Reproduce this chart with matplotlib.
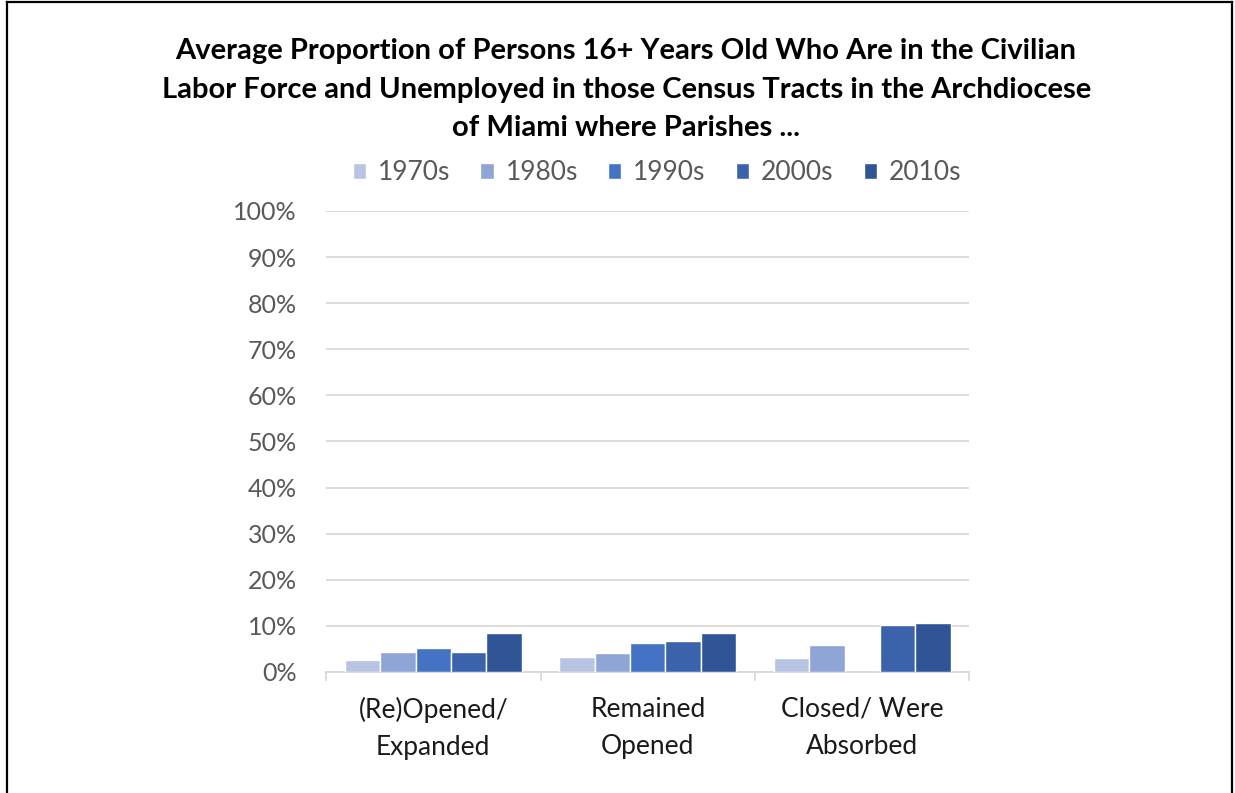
import matplotlib.pyplot as plt
from matplotlib.lines import Line2D
import numpy as np

plt.rcParams['font.family'] = ['Lato', 'DejaVu Sans']

categories = ["(Re)Opened/\nExpanded", "Remained\nOpened", "Closed/ Were\nAbsorbed"]
decades = ["1970s", "1980s", "1990s", "2000s", "2010s"]
colors = ["#B9C4E3", "#8FA5D5", "#4472C4", "#3B63AC", "#2F5597"]

# share of persons 16+ unemployed, one list per decade
v1970s = [0.027, 0.032, 0.030]
v1980s = [0.043, 0.041, 0.058]
v1990s = [0.052, 0.062, np.nan]
v2000s = [0.043, 0.068, 0.101]
v2010s = [0.084, 0.084, 0.107]
series = [v1970s, v1980s, v1990s, v2000s, v2010s]

title = ("Average Proportion of Persons 16+ Years Old Who Are in the Civilian\n"
         "Labor Force and Unemployed in those Census Tracts in the Archdiocese\n"
         "of Miami where Parishes ...")

fig = plt.figure(figsize=(12.35, 7.93), dpi=100)
ax = fig.add_axes([0.264, 0.1526, 0.521, 0.5814])

x = np.arange(len(categories))
w = 0.165
for i, (name, vals) in enumerate(zip(decades, series)):
    ax.bar(x + (i - 2) * w, vals, w, color=colors[i], label=name,
           edgecolor="white", linewidth=1, zorder=3)

ax.set_xlim(-0.5, 2.5)
ax.set_ylim(0, 1)
ax.set_yticks(np.arange(0, 1.01, 0.1))
ax.set_yticklabels([f"{int(round(t * 100))}%" for t in np.arange(0, 1.01, 0.1)])
ax.yaxis.grid(True, color="#D9D9D9", linewidth=1.3, zorder=0)
ax.tick_params(axis="y", length=0, pad=21, labelsize=18, labelcolor="#595959")

ax.set_xticks(x)
ax.set_xticklabels(categories, linespacing=1.58)
ax.tick_params(axis="x", length=0, pad=18, labelsize=19, labelcolor="#1A1A1A")
# category separators below the axis
for b in [-0.5, 0.5, 1.5, 2.5]:
    ax.plot([b, b], [0, -0.018], color="#D9D9D9", linewidth=1.3, clip_on=False)

for s in ["top", "right", "left"]:
    ax.spines[s].set_visible(False)
ax.spines["bottom"].set_color("#D9D9D9")
ax.spines["bottom"].set_linewidth(1.3)

fig.text(0.507, 0.887, title, ha="center", va="center", fontsize=21,
         fontweight="bold", color="black", linespacing=1.6)

fig.legend(loc="center", bbox_to_anchor=(0.532, 0.782), ncol=5, frameon=False,
           fontsize=19, handlelength=0.5, handleheight=0.5, handletextpad=0.45,
           columnspacing=1.15, labelcolor="#595959")

# outer border
fig.add_artist(Line2D([0.0057, 0.0057], [-0.01, 0.9975], color="black", linewidth=1.6))
fig.add_artist(Line2D([0.0057, 0.9978], [0.9975, 0.9975], color="black", linewidth=1.6))
fig.add_artist(Line2D([0.9978, 0.9978], [-0.01, 0.9975], color="black", linewidth=1.6))

fig.savefig("out.png", dpi=100)
